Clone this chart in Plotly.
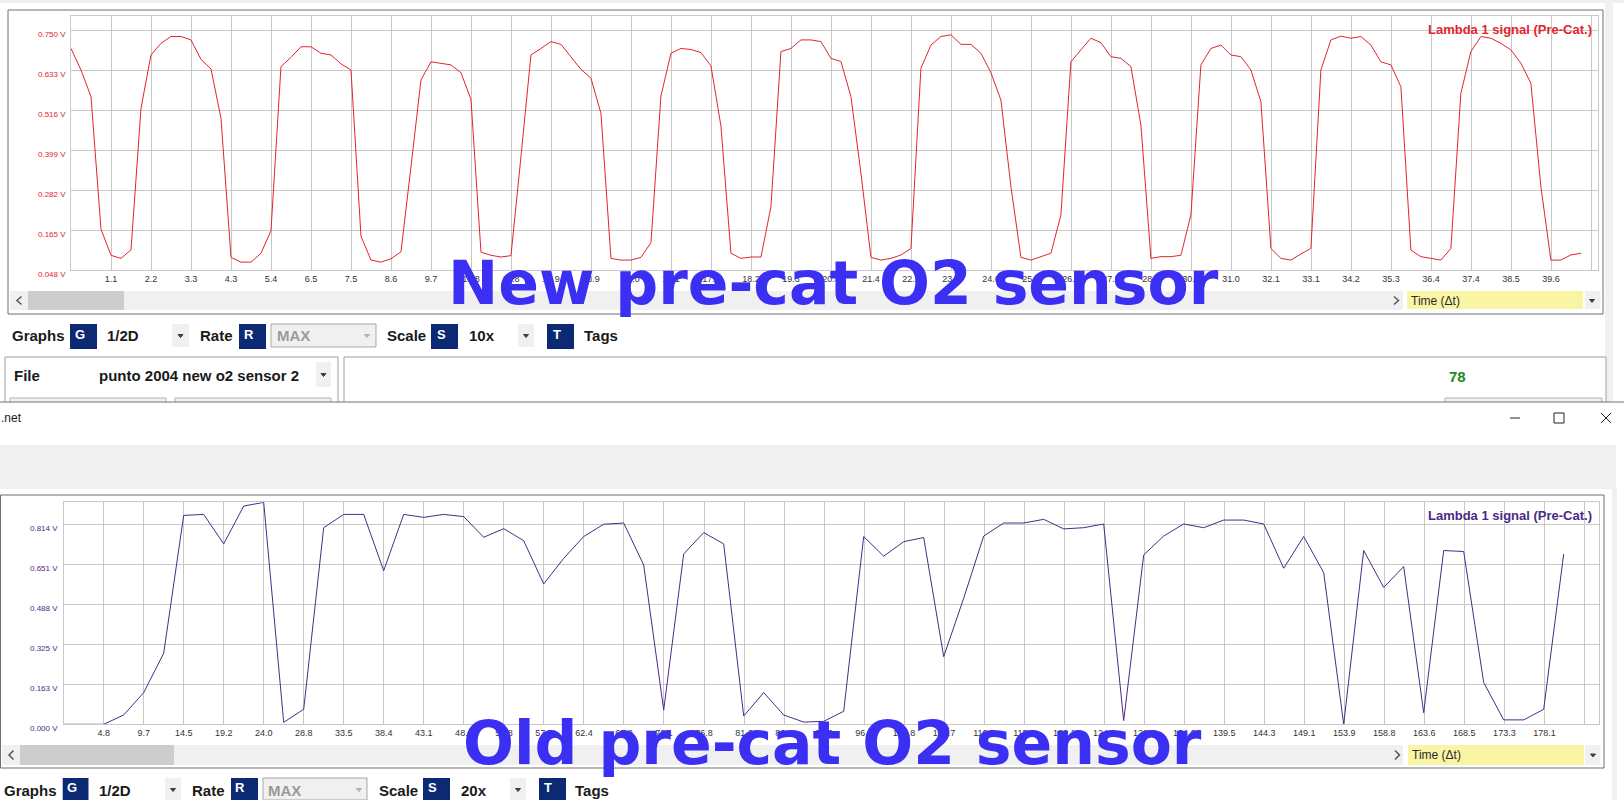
import plotly.graph_objects as go

# ---------------- DATA ----------------
top_voltage = [
    0.696, 0.633, 0.555, 0.167, 0.091, 0.082, 0.107, 0.521, 0.677, 0.711,
    0.731, 0.731, 0.721, 0.664, 0.636, 0.492, 0.085, 0.071, 0.071, 0.097,
    0.163, 0.643, 0.670, 0.701, 0.701, 0.682, 0.677, 0.651, 0.633, 0.147,
    0.077, 0.071, 0.081, 0.101, 0.350, 0.604, 0.657, 0.652, 0.648, 0.625,
    0.547, 0.100, 0.091, 0.086, 0.090, 0.380, 0.677, 0.696, 0.716, 0.708,
    0.672, 0.635, 0.609, 0.506, 0.082, 0.077, 0.077, 0.085, 0.128, 0.557,
    0.682, 0.696, 0.693, 0.684, 0.645, 0.469, 0.097, 0.082, 0.086, 0.086,
    0.233, 0.687, 0.696, 0.721, 0.721, 0.716, 0.667, 0.658, 0.555, 0.331,
    0.085, 0.077, 0.082, 0.092, 0.111, 0.638, 0.706, 0.731, 0.736, 0.708,
    0.708, 0.682, 0.625, 0.545, 0.292, 0.085, 0.077, 0.087, 0.097, 0.209,
    0.657, 0.692, 0.726, 0.713, 0.672, 0.667, 0.643, 0.472, 0.082, 0.087,
    0.087, 0.091, 0.209, 0.648, 0.696, 0.706, 0.677, 0.672, 0.633, 0.540,
    0.111, 0.082, 0.077, 0.095, 0.111, 0.633, 0.721, 0.732, 0.726, 0.731,
    0.706, 0.657, 0.648, 0.584, 0.106, 0.087, 0.082, 0.077, 0.111, 0.565,
    0.687, 0.731, 0.726, 0.711, 0.692, 0.653, 0.594, 0.292, 0.077, 0.077,
    0.092, 0.097,
]
top_dt = 0.26755
top_xtick_step = 1.0703
top_xtick_labels = [
    "1.1", "2.2", "3.3", "4.3", "5.4", "6.5", "7.5", "8.6", "9.7", "10.8",
    "11.8", "12.9", "13.9", "15.0", "16.1", "17.1", "18.2", "19.3", "20.4", "21.4",
    "22.5", "23.6", "24.6", "25.7", "26.8", "27.8", "28.9", "30.0", "31.0", "32.1",
    "33.1", "34.2", "35.3", "36.4", "37.4", "38.5", "39.6", "",
]
top_ytick_vals = [0.048, 0.165, 0.282, 0.399, 0.516, 0.633, 0.750]
top_ytick_labels = ["0.048 V", "0.165 V", "0.282 V", "0.399 V", "0.516 V", "0.633 V", "0.750 V"]
top_xrange = [0, 40.85]
top_yrange = [0.048, 0.791]

bottom_voltage = [
    0.000, 0.000, 0.000, 0.038, 0.129, 0.289, 0.850, 0.854, 0.734, 0.888,
    0.903, 0.008, 0.061, 0.800, 0.854, 0.854, 0.625, 0.854, 0.842, 0.854,
    0.845, 0.761, 0.796, 0.747, 0.571, 0.675, 0.764, 0.814, 0.819, 0.648,
    0.058, 0.693, 0.780, 0.734, 0.034, 0.129, 0.038, 0.009, 0.012, 0.053,
    0.764, 0.684, 0.743, 0.760, 0.275, 0.513, 0.766, 0.819, 0.819, 0.834,
    0.795, 0.800, 0.815, 0.015, 0.689, 0.766, 0.815, 0.800, 0.831, 0.831,
    0.815, 0.635, 0.764, 0.617, 0.000, 0.707, 0.557, 0.642, 0.047, 0.707,
    0.703, 0.170, 0.018, 0.018, 0.061, 0.693,
]
bottom_dt = 2.4056
bottom_xtick_step = 4.8135
bottom_xtick_labels = [
    "4.8", "9.7", "14.5", "19.2", "24.0", "28.8", "33.5", "38.4", "43.1", "48.0",
    "52.8", "57.6", "62.4", "67.2", "72.1", "76.8", "81.6", "86.4", "91.2", "96.0",
    "100.8", "105.7", "110.5", "115.3", "120.1", "124.9", "129.7", "134.6", "139.5", "144.3",
    "149.1", "153.9", "158.8", "163.6", "168.5", "173.3", "178.1", "",
]
bottom_ytick_vals = [0.0, 0.16275, 0.3255, 0.48825, 0.651, 0.81375]
bottom_ytick_labels = ["0.000 V", "0.163 V", "0.325 V", "0.488 V", "0.651 V", "0.814 V"]
bottom_xrange = [0, 184.63]
bottom_yrange = [0, 0.9033]

chart_title = "Lambda 1 signal (Pre-Cat.)"
top_overlay_text = "New pre-cat O2 sensor"
bottom_overlay_text = "Old pre-cat O2 sensor"
file_name = "punto 2004 new o2 sensor 2"
sample_count_text = "78"

# ---------------- STYLE ----------------
W, H = 1624, 800
RED = "#e3242b"
PURPLE = "#4b2a86"
BLUE = "#3b2ff3"
NAVY = "#0c2a74"
GRID = "#c8c8c8"
FRAME = "#6e6e6e"
LIGHT = "#f0f0f0"
THUMB = "#cdcdcd"
YELLOW = "#faf5a5"
UI_FONT = "Liberation Sans, Arial, sans-serif"


def px(x):
    return x / W


def py(y):
    return 1 - y / H


shapes = []
annotations = []


def rect(x0, y0, x1, y1, fill=None, line=None, lw=1, layer="above"):
    shapes.append(dict(
        type="rect", xref="paper", yref="paper",
        x0=px(x0), x1=px(x1), y0=py(y1), y1=py(y0),
        fillcolor=fill if fill else "rgba(0,0,0,0)",
        line=dict(color=line if line else "rgba(0,0,0,0)", width=lw if line else 0),
        layer=layer,
    ))


def path(points, color, lw=1.5, fill=None, close=False):
    d = "M " + " L ".join(f"{px(x):.6f},{py(y):.6f}" for x, y in points)
    if close:
        d += " Z"
    shapes.append(dict(
        type="path", xref="paper", yref="paper", path=d,
        line=dict(color=color, width=lw),
        fillcolor=fill if fill else "rgba(0,0,0,0)",
    ))


def tri(x, y, color="#404040"):
    path([(x - 2.5, y - 1.5), (x + 2.5, y - 1.5), (x, y + 1.5)], color, lw=1, fill=color, close=True)


def text(x, y, s, size=15, color="#1a1a1a", bold=True, anchor="left", family=UI_FONT):
    annotations.append(dict(
        xref="paper", yref="paper", x=px(x), y=py(y),
        text=f"<b>{s}</b>" if bold else s,
        showarrow=False, xanchor=anchor, yanchor="middle",
        font=dict(family=family, size=size, color=color),
        borderpad=0,
    ))


def ylabels(vals, labels, yref, x_right, color):
    # value labels placed by the y axis scale, drawn a few px below their grid line
    for v, lab in zip(vals, labels):
        annotations.append(dict(
            xref="paper", yref=yref, x=px(x_right), y=v, yshift=-4,
            text=lab, showarrow=False, xanchor="right", yanchor="middle",
            font=dict(family=UI_FONT, size=8, color=color), borderpad=0,
        ))


# ---------- top window ----------
rect(0, 0, W, 3, fill=LIGHT)
rect(1605, 0, 1613, 402, fill=LIGHT)
rect(8, 10, 1603, 314, fill="white", line=FRAME, lw=1, layer="below")
# scrollbar row
rect(10, 291, 1403, 310, fill=LIGHT)
rect(28, 291, 124, 310, fill=THUMB)
path([(21.5, 296.5), (17, 300.5), (21.5, 304.5)], "#555555")
path([(1394, 296.5), (1398.5, 300.5), (1394, 304.5)], "#555555")
rect(1407, 291, 1583, 309, fill=YELLOW)
text(1410, 300.5, "Time (Δt)", size=12, color="#2a2a2a", bold=False)
rect(1585, 291, 1600.5, 309, fill=LIGHT)
tri(1592, 301)
text(1593, 29, chart_title, size=13, color=RED, anchor="right")
ylabels(top_ytick_vals, top_ytick_labels, "y", 67, RED)

# top toolbar
TY0, TY1, TYC = 324, 349, 336
for label, x in [("Graphs", 11.4), ("1/2D", 106), ("Rate", 199), ("Scale", 386), ("10x", 468), ("Tags", 583)]:
    text(x, TYC, label)
for letter, x0, x1 in [("G", 70, 97), ("R", 239, 266), ("S", 431, 458), ("T", 547, 574)]:
    rect(x0, TY0, x1, TY1, fill=NAVY)
    text(x0 + 10, 334, letter, size=13, color="white", anchor="center")
for x0, x1 in [(172, 189), (518, 534)]:
    rect(x0, TY0, x1, 347, fill=LIGHT)
    tri((x0 + x1) / 2, 336)
rect(271, TY0, 376, 347, fill=LIGHT, line="#a8a8a8")
text(275.5, TYC, "MAX", color="#9a9a9a")
tri(367, 336, "#b0b0b0")

# file panel + right panel
rect(5, 357, 338, 410, fill="white", line="#a0a0a0")
text(13, 375, "File")
text(98, 375, file_name)
rect(316, 362, 331, 387, fill=LIGHT)
tri(323.5, 375)
rect(10, 398, 166, 410, fill=LIGHT, line="#b4b4b4")
rect(175, 398, 331, 410, fill=LIGHT, line="#b4b4b4")
rect(344, 357, 1606, 410, fill="white", line="#a0a0a0")
rect(1445, 398, 1602, 410, fill=LIGHT, line="#b4b4b4")
text(1457, 376, sample_count_text, size=15, color="#1e8a1e", anchor="center")

# ---------- second window ----------
rect(0, 402, W, 445, fill="white")
shapes.append(dict(type="line", xref="paper", yref="paper", x0=0, x1=1, y0=py(402), y1=py(402),
                   line=dict(color="#707070", width=1)))
text(0, 418, ".net", size=12, color="#1a1a1a", bold=False)
path([(1510, 418), (1520, 418)], "#222222", lw=1)
rect(1554, 413, 1564, 423, line="#222222", lw=1)
path([(1601, 413), (1611, 423)], "#222222", lw=1)
path([(1601, 423), (1611, 413)], "#222222", lw=1)
rect(0, 445, 1616, 489, fill=LIGHT)
rect(1612, 489, 1617, 800, fill=LIGHT)
rect(0.5, 495, 1604, 768, fill="white", line=FRAME, lw=1, layer="below")
rect(2, 745, 1403, 765, fill=LIGHT)
rect(20, 745, 174, 765, fill=THUMB)
path([(13.5, 750.5), (9, 755), (13.5, 759.5)], "#555555")
path([(1395, 750.5), (1399.5, 755), (1395, 759.5)], "#555555")
rect(1408, 745, 1584, 765, fill=YELLOW)
text(1411, 755, "Time (Δt)", size=12, color="#2a2a2a", bold=False)
rect(1585, 745, 1600.5, 765, fill=LIGHT)
tri(1593, 755.5)
text(1593, 515.7, chart_title, size=13, color=PURPLE, anchor="right")
ylabels(bottom_ytick_vals, bottom_ytick_labels, "y2", 59.5, PURPLE)

# bottom toolbar
BY0, BY1, BYC = 778, 800, 790
for label, x in [("Graphs", 3.4), ("1/2D", 98), ("Rate", 191), ("Scale", 378), ("20x", 460), ("Tags", 574)]:
    text(x, BYC, label)
for letter, x0, x1 in [("G", 62.7, 88.5), ("R", 231, 258), ("S", 423, 450), ("T", 539, 566)]:
    rect(x0, BY0, x1, BY1, fill=NAVY)
    text(x0 + 9, 787, letter, size=13, color="white", anchor="center")
for x0, x1 in [(165, 181), (510, 526)]:
    rect(x0, BY0, x1, BY1, fill=LIGHT)
    tri((x0 + x1) / 2, 790)
rect(263, BY0, 367, BY1, fill=LIGHT, line="#a8a8a8")
text(267, BYC, "MAX", color="#9a9a9a")
tri(359, 790, "#b0b0b0")

# big overlay captions
text(834, 283, top_overlay_text, size=60, color=BLUE, anchor="center", family="DejaVu Sans")
text(832, 743, bottom_overlay_text, size=60, color=BLUE, anchor="center", family="DejaVu Sans")

# ---------------- FIGURE ----------------
fig = go.Figure()
fig.add_trace(go.Scatter(
    x=[i * top_dt for i in range(len(top_voltage))], y=top_voltage,
    mode="lines", line=dict(color=RED, width=1), xaxis="x", yaxis="y",
    hoverinfo="skip", showlegend=False,
))
fig.add_trace(go.Scatter(
    x=[i * bottom_dt for i in range(len(bottom_voltage))], y=bottom_voltage,
    mode="lines", line=dict(color=PURPLE, width=1), xaxis="x2", yaxis="y2",
    hoverinfo="skip", showlegend=False,
))

axis_common = dict(showgrid=True, gridcolor=GRID, gridwidth=1, zeroline=False,
                   showline=True, linecolor=GRID, linewidth=1, mirror=True,
                   ticks="", fixedrange=True)

fig.update_layout(
    width=W, height=H,
    margin=dict(l=0, r=0, t=0, b=0),
    paper_bgcolor="white", plot_bgcolor="rgba(0,0,0,0)",
    showlegend=False,
    xaxis=dict(
        domain=[px(71), px(1597.7)], range=top_xrange, anchor="y",
        tickvals=[(k + 1) * top_xtick_step for k in range(len(top_xtick_labels))],
        ticktext=top_xtick_labels,
        tickfont=dict(family=UI_FONT, size=9, color="#333333"),
        **axis_common,
    ),
    yaxis=dict(
        domain=[py(270), py(16)], range=top_yrange, anchor="x",
        tickvals=top_ytick_vals, showticklabels=False,
        **axis_common,
    ),
    xaxis2=dict(
        domain=[px(63.7), px(1598.7)], range=bottom_xrange, anchor="y2",
        tickvals=[(k + 1) * bottom_xtick_step for k in range(len(bottom_xtick_labels))],
        ticktext=bottom_xtick_labels,
        tickfont=dict(family=UI_FONT, size=9, color="#333333"),
        **axis_common,
    ),
    yaxis2=dict(
        domain=[py(724.3), py(502.3)], range=bottom_yrange, anchor="x2",
        tickvals=bottom_ytick_vals, showticklabels=False,
        **axis_common,
    ),
    shapes=shapes,
    annotations=annotations,
)

fig.write_html(
    "out.html",
    config={"displayModeBar": False},
    post_script=(
        "document.documentElement.style.margin='0';"
        "document.documentElement.style.overflow='hidden';"
        "document.body.style.margin='0';"
        "document.body.style.overflow='hidden';"
    ),
)
